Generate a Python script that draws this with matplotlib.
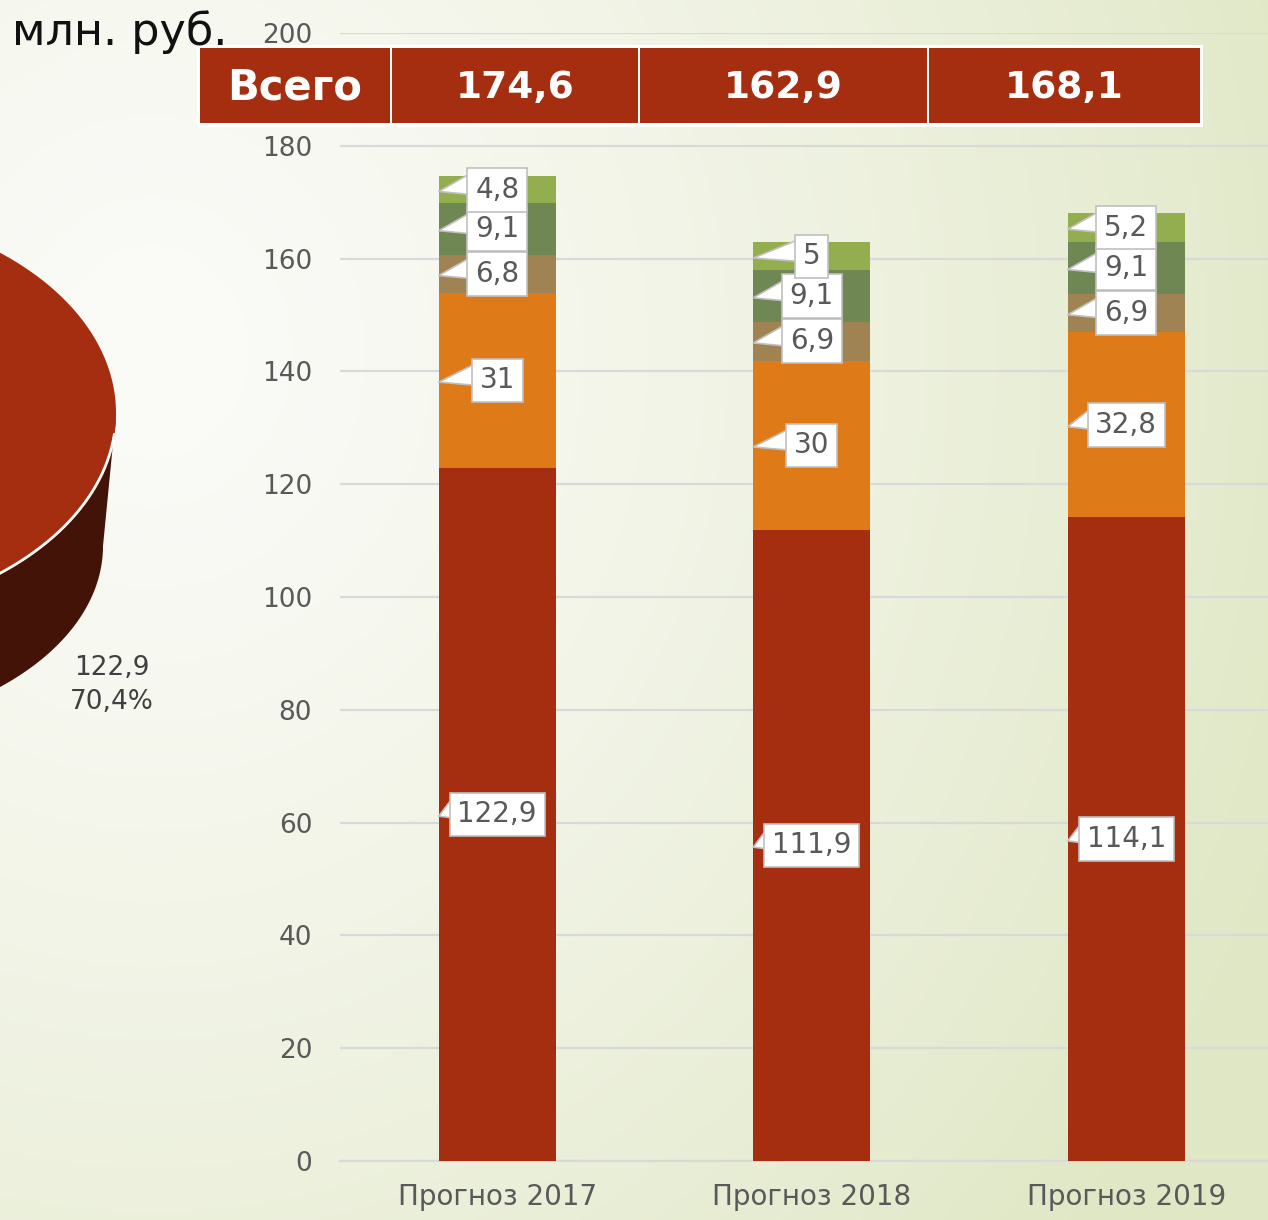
import numpy as np
import matplotlib
matplotlib.use('Agg')
import matplotlib.pyplot as plt
from matplotlib.patches import Rectangle, Polygon

plt.rcParams['font.family'] = ['DejaVu Sans']

# данные
categories = ['Прогноз 2017', 'Прогноз 2018', 'Прогноз 2019']
seg1 = [122.9, 111.9, 114.1]
seg2 = [31, 30, 32.8]
seg3 = [6.8, 6.9, 6.9]
seg4 = [9.1, 9.1, 9.1]
seg5 = [4.8, 5, 5.2]
colors = ['#A52D10', '#DE7B18', '#A08352', '#6F8752', '#93AE4E']
total_label = 'Всего'
pie_value = 122.9
pie_share = 70.4


def fmt(v):
    return f'{v:g}'.replace('.', ',')


W, H = 1268, 1220
fig = plt.figure(figsize=(W / 100, H / 100), dpi=100)

# фон с градиентом
bg = fig.add_axes([0, 0, 1, 1], zorder=0)
yy, xx = np.mgrid[0:H:4, 0:W:4]
d = np.sqrt((xx - 150) ** 2 + ((yy - 350) * 0.9) ** 2) / 1250
d = np.clip(d, 0, 1) ** 1.3
c0 = np.array([0xfb, 0xfb, 0xf8]) / 255
c1 = np.array([0xdf, 0xe7, 0xc4]) / 255
img = c0 + (c1 - c0) * d[..., None]
bg.imshow(img, extent=[0, W, H, 0], aspect='auto')
bg.set_xlim(0, W)
bg.set_ylim(H, 0)
bg.axis('off')

# столбцы
ax = fig.add_axes([340 / W, 1 - 1161 / H, 3 * 314.5 / W, 1128 / H], zorder=1)
ax.set_facecolor('none')
x = np.arange(len(categories))
width = 0.372
series = [seg1, seg2, seg3, seg4, seg5]
bottom = np.zeros(len(categories))
for vals, col in zip(series, colors):
    vals = np.array(vals, dtype=float)
    ax.bar(x, vals, width, bottom=bottom, color=col, zorder=3)
    for xi, b, v in zip(x, bottom, vals):
        mid = b + v / 2
        ax.annotate(fmt(v), xy=(xi - width / 2, mid - 0.3), xytext=(xi, mid),
                    ha='center', va='center', fontsize=20, color='#595959',
                    bbox=dict(boxstyle='square,pad=0.28', fc='white', ec='#c0c0c0', lw=1.2),
                    arrowprops=dict(arrowstyle='wedge,tail_width=0.85', fc='white', ec='#c0c0c0',
                                    lw=1.2, relpos=(0, 0.72), patchA=None, shrinkA=0, shrinkB=0),
                    zorder=5)
    bottom = bottom + vals
totals = bottom

ax.set_xlim(-0.5, 2.5)
ax.set_ylim(0, 200)
ax.set_yticks(np.arange(0, 201, 20))
ax.set_xticks(x)
ax.set_xticklabels(categories)
ax.grid(axis='y', color='#d9d9d9', lw=1.6, zorder=0)
for s in ['left', 'right', 'top']:
    ax.spines[s].set_visible(False)
ax.spines['bottom'].set_color('#d9d9d9')
ax.spines['bottom'].set_linewidth(1.6)
ax.tick_params(axis='y', length=0, pad=20, labelsize=19, labelcolor='#595959')
ax.tick_params(axis='x', length=0, pad=16, labelsize=20, labelcolor='#595959')

# верхний слой: пирог и таблица
ov = fig.add_axes([0, 0, 1, 1], zorder=2)
ov.set_xlim(0, W)
ov.set_ylim(H, 0)
ov.axis('off')
ov.patch.set_alpha(0)

half = np.radians(360 * pie_share / 100 / 2)
cx, cy, a, b = -200, 413, 316, 207
bx, by, ba, bb = -197, 546, 300, 187
t = np.linspace(0, -half, 200)
top_front = np.c_[cx + a * np.cos(t), cy - b * np.sin(t)]
bot_front = np.c_[bx + ba * np.cos(t), by - bb * np.sin(t)]
ov.add_patch(Polygon(np.vstack([top_front, bot_front[::-1]]), closed=True,
                     fc='#431308', ec='none'))
tt = np.linspace(-half, half, 400)
top_face = np.vstack([[cx, cy], np.c_[cx + a * np.cos(tt), cy - b * np.sin(tt)]])
ov.add_patch(Polygon(top_face, closed=True, fc=colors[0], ec='none'))
tw = np.linspace(np.radians(-6), -half, 200)
ov.plot(cx + a * np.cos(tw), cy - b * np.sin(tw), color='white', lw=2)
ov.text(112, 685, f'{fmt(pie_value)}\n{fmt(pie_share)}%', ha='center', va='center',
        fontsize=19, color='#404040', linespacing=1.45)

ov.text(12, 45, 'млн. руб.', fontsize=32, color='#111111', va='baseline', ha='left')

col_edges = [199, 391, 639, 928, 1201]
ov.add_patch(Rectangle((197, 45), 1006, 82, fc='white', ec='none'))
cells = [total_label] + [fmt(round(v, 1)) for v in totals]
for i, txt in enumerate(cells):
    x0, x1 = col_edges[i] + 1, col_edges[i + 1] - 1
    ov.add_patch(Rectangle((x0, 48), x1 - x0, 75, fc=colors[0], ec='none'))
    ov.text((x0 + x1) / 2, 88, txt, ha='center', va='center',
            fontsize=30 if i == 0 else 27, fontweight='bold', color='white')

fig.savefig('out.png', dpi=100)
